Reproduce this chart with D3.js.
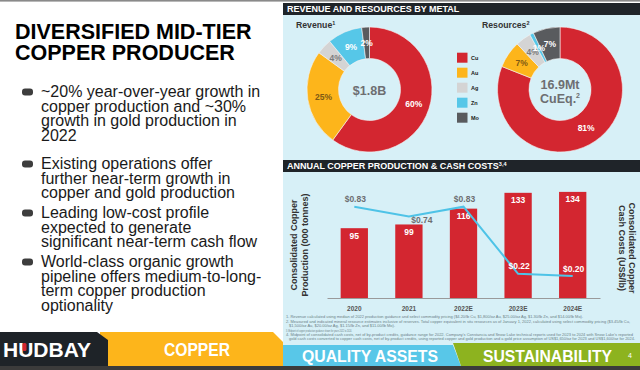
<!DOCTYPE html>
<html><head><meta charset="utf-8">
<script src="https://cdn.jsdelivr.net/npm/d3@7"></script>
<style>
html,body{margin:0;padding:0;background:#fff;}
svg{display:block;font-family:"Liberation Sans",Arial,Helvetica,sans-serif;}
</style></head>
<body>
<svg id="c" width="640" height="370"></svg>
<script>
// ---------- DATA ----------
const metals = ["Cu","Au","Ag","Zn","Mo"];
const revenueShare = [60,25,4,9,2];
const resourceShare = [81,7,4,1,7];
const years = ["2020","2021","2022E","2023E","2024E"];
const copperProduction = [95,99,116,133,134];
const cashCosts = [0.83,0.74,0.83,0.22,0.20];
const prodAxisDomain = [20,150];
const costAxisDomain = [0,1.1];

const titleLines = ["DIVERSIFIED MID-TIER","COPPER PRODUCER"];
const bullets = [
  ["~20% year-over-year growth in","copper production and ~30%","growth in gold production in","2022"],
  ["Existing operations offer","further near-term growth in","copper and gold production"],
  ["Leading low-cost profile","expected to generate","significant near-term cash flow"],
  ["World-class organic growth","pipeline offers medium-to-long-","term copper production","optionality"]
];
const footnotes = [
  "1. Revenue calculated using median of 2022 production guidance and select commodity pricing ($4.20/lb Cu, $1,800/oz Au, $25.00/oz Ag, $1.30/lb Zn, and $14.00/lb Mo).",
  "2. Measured and indicated mineral resource estimates inclusive of reserves. Total copper equivalent in situ resources as of January 1, 2022, calculated using select commodity pricing ($3.45/lb Cu,",
  "$1,500/oz Au, $20.00/oz Ag, $1.15/lb Zn, and $11.00/lb Mo).",
  "3. Midpoint of copper production guidance shown for years 2022 to 2024.",
  "4. Midpoint of consolidated cash costs, net of by-product credits, guidance range for 2022. Company's Constancia and Snow Lake technical reports used for 2023 to 2024 with Snow Lake's reported",
  "gold cash costs converted to copper cash costs, net of by-product credits, using reported copper and gold production and a gold price assumption of US$1,650/oz for 2023 and US$1,600/oz for 2024."
];

// ---------- STYLE ----------
const metalColor = d3.scaleOrdinal().domain(metals).range(["#d32630","#fdb51b","#d4d4d4","#56c7e8","#595b5e"]);
const labelColor = d3.scaleOrdinal().domain(metals).range(["#ffffff","#7d5a14","#7c7c7c","#ffffff","#ffffff"]);
const panelBlue = "#d7f0f7", darkBar = "#1f2429", red = "#d32630";

const svg = d3.select("#c");
svg.append("rect").attr("width",640).attr("height",370).attr("fill","#fff");
svg.append("rect").attr("x",0).attr("y",0).attr("width",640).attr("height",1.6).attr("fill","#8a8a8a");

// ---------- LEFT TEXT ----------
const left = svg.append("g");
titleLines.forEach((t,i)=>{
  left.append("text").attr("x",15).attr("y",39+i*21).attr("font-size",21.5).attr("font-weight","bold")
    .attr("fill","#000").text(t);
});
const bulletStarts = [97,169,218,267];
bullets.forEach((lines,bi)=>{
  const y0 = bulletStarts[bi];
  left.append("rect").attr("x",22).attr("y",y0-8.5).attr("width",11).attr("height",7).attr("rx",3)
    .attr("fill","#3d3d3d");
  lines.forEach((t,li)=>{
    left.append("text").attr("x",41).attr("y",y0+li*14.5).attr("font-size",16)
      .attr("fill","#1a1a1a").text(t);
  });
});

// ---------- RIGHT PANEL ----------
svg.append("rect").attr("x",283).attr("y",3).attr("width",357).attr("height",342).attr("fill",panelBlue);
function header(y, txt, sup){
  svg.append("rect").attr("x",283).attr("y",y).attr("width",357).attr("height",12).attr("fill",darkBar);
  const t = svg.append("text").attr("x",287).attr("y",y+9.3).attr("font-size",9).attr("font-weight","bold").attr("fill","#fff");
  t.append("tspan").text(txt);
  if(sup) t.append("tspan").attr("font-size",5.5).attr("dy",-3.2).text(sup);
}
header(3,"REVENUE AND RESOURCES BY METAL");
header(160,"ANNUAL COPPER PRODUCTION & CASH COSTS","3,4");

// Donuts
const pie = d3.pie().sort(null).value(d=>d.v);
const rOut = 62.5, rIn = 31;
const arc = d3.arc().innerRadius(rIn).outerRadius(rOut);
const labelArc = d3.arc().innerRadius(46.5).outerRadius(46.5);
function donut(cx, cy, vals, title, sup, centerLines, titleX){
  const g = svg.append("g").attr("transform",`translate(${cx},${cy})`);
  const data = pie(metals.map((m,i)=>({m, v:vals[i]})));
  g.selectAll("path").data(data).join("path").attr("d",arc)
    .attr("fill",d=>metalColor(d.data.m)).attr("stroke","#f4f4f4").attr("stroke-width",0.6);
  g.selectAll("text.pl").data(data).join("text").attr("class","pl")
    .attr("transform",d=>`translate(${labelArc.centroid(d)})`)
    .attr("text-anchor","middle").attr("dy","0.35em").attr("font-size",8.5).attr("font-weight","bold")
    .attr("fill",d=>labelColor(d.data.m)).text(d=>d.data.v+"%");
  centerLines.forEach((cl,i)=>{
    const t = g.append("text").attr("text-anchor","middle")
      .attr("y", centerLines.length===1 ? 5 : -1 + i*14)
      .attr("font-size",12.5).attr("font-weight","bold").attr("fill","#6d6e71");
    t.append("tspan").text(cl[0]);
    if(cl[1]) t.append("tspan").attr("font-size",7).attr("dy",-5).text(cl[1]);
  });
  const tt = svg.append("text").attr("x",titleX).attr("y",28).attr("font-size",8.7).attr("font-weight","bold").attr("fill","#333");
  tt.append("tspan").text(title);
  tt.append("tspan").attr("font-size",5.5).attr("dy",-3.3).text(sup);
}
donut(369.5, 89.5, revenueShare, "Revenue", "1", [["$1.8B"]], 296);
donut(560, 89.5, resourceShare, "Resources", "2", [["16.9Mt"],["CuEq.","2"]], 482);

// Legend
const leg = svg.append("g");
metals.forEach((m,i)=>{
  leg.append("rect").attr("x",457).attr("y",52.7+i*15).attr("width",10.5).attr("height",10).attr("fill",metalColor(m));
  leg.append("text").attr("x",471).attr("y",60+i*15).attr("font-size",5.5).attr("font-weight","bold").attr("fill","#222").text(m);
});

// ---------- BAR + LINE CHART ----------
const x = d3.scaleBand().domain(years).range([327,600]).paddingInner(0.5).paddingOuter(0.25);
const yP = d3.scaleLinear().domain(prodAxisDomain).range([298,177]);
const yC = d3.scaleLinear().domain(costAxisDomain).range([298,177]);

const chart = svg.append("g");
chart.selectAll("rect.bar").data(years).join("rect").attr("class","bar")
  .attr("x",d=>x(d)).attr("width",x.bandwidth())
  .attr("y",(d,i)=>yP(copperProduction[i])).attr("height",(d,i)=>yP(prodAxisDomain[0])-yP(copperProduction[i]))
  .attr("fill",red);
chart.selectAll("text.bl").data(years).join("text").attr("class","bl")
  .attr("x",d=>x(d)+x.bandwidth()/2).attr("y",(d,i)=>yP(copperProduction[i])+10.5)
  .attr("text-anchor","middle").attr("font-size",8.5).attr("font-weight","bold").attr("fill","#fff")
  .text((d,i)=>copperProduction[i]);

// x axis
const xAxis = d3.axisBottom(x).tickSize(0).tickPadding(8);
const ax = chart.append("g").attr("transform","translate(0,298)").call(xAxis);
ax.select(".domain").attr("stroke","#9a9a9a").attr("stroke-width",1);
ax.selectAll("text").attr("font-size",6.5).attr("font-weight","bold").attr("fill","#555")
  .attr("font-family","Liberation Sans,Arial,sans-serif");

// line
const line = d3.line().x((d,i)=>x(years[i])+x.bandwidth()/2).y(d=>yC(d));
chart.append("path").datum(cashCosts).attr("d",line).attr("fill","none")
  .attr("stroke","#4ec3e7").attr("stroke-width",2);
chart.selectAll("text.cl").data(cashCosts).join("text").attr("class","cl")
  .each(function(d,i){
    const px = x(years[i])+x.bandwidth()/2, py = yC(d);
    // dip point: label below-right, otherwise above
    const dip = i>0 && i<cashCosts.length-1 && d<cashCosts[i-1] && d<cashCosts[i+1];
    const lx = dip ? px+13 : px+1, ly = dip ? py+6.5 : py-4.5;
    const onBar = (ly-3) > yP(copperProduction[i]);
    d3.select(this).attr("x",lx).attr("y",ly).attr("text-anchor","middle")
      .attr("font-size",8.5).attr("font-weight","bold").attr("fill",onBar?"#fff":"#6d6e71")
      .text("$"+d.toFixed(2));
  });

// axis titles
const lt = chart.append("text").attr("transform","translate(297,245) rotate(-90)").attr("text-anchor","middle")
  .attr("font-size",9).attr("font-weight","bold").attr("fill","#333");
lt.append("tspan").attr("x",0).attr("dy",0).text("Consolidated Copper");
lt.append("tspan").attr("x",0).attr("dy",10.5).text("Production (000 tonnes)");
const rt = chart.append("text").attr("transform","translate(629,248) rotate(90)").attr("text-anchor","middle")
  .attr("font-size",9).attr("font-weight","bold").attr("fill","#333");
rt.append("tspan").attr("x",0).attr("dy",0).text("Consolidated Copper");
rt.append("tspan").attr("x",0).attr("dy",10.5).text("Cash Costs (US$/lb)");

// footnotes
const fnPos = [[286,318,297],[286,323,344],[289,327,106],[286,331.5,66],[286,335.5,347],[289,340,346]];
footnotes.forEach((t,i)=>{
  svg.append("text").attr("x",fnPos[i][0]).attr("y",fnPos[i][1]).attr("font-size",4)
    .attr("textLength",fnPos[i][2]).attr("lengthAdjust","spacingAndGlyphs")
    .attr("fill","#6b7f86").text(t);
});

// ---------- BOTTOM BAR ----------
const bot = svg.append("g");
bot.append("path").attr("d","M100,332 L273,332 L283,342 L283,366 L100,366 Z").attr("fill","#fdb51b");
bot.append("path").attr("d","M0,332 L97,332 L108,340 L108,366 L0,366 Z").attr("fill","#1e2328");
bot.append("path").attr("d","M283,345 L453,345 L461,366 L283,366 Z").attr("fill","#58c7e8");
bot.append("path").attr("d","M453,343 L640,343 L640,366 L461,366 Z").attr("fill","#8db31f");
bot.append("rect").attr("x",0).attr("y",366).attr("width",640).attr("height",4).attr("fill","#3b3b3b");
const logo = bot.append("text").attr("x",3).attr("y",357).attr("font-size",20.5).attr("font-weight","bold")
  .attr("fill","#fff").attr("textLength",88).attr("lengthAdjust","spacingAndGlyphs").text("HUDBAY");
// red mark inside the U
bot.append("rect").attr("x",22.5).attr("y",343).attr("width",4).attr("height",8).attr("rx",1.5).attr("fill","#d32630");
bot.append("text").attr("x",197).attr("y",356).attr("text-anchor","middle").attr("font-size",18).attr("font-weight","bold")
  .attr("fill","#fff").attr("textLength",66).attr("lengthAdjust","spacingAndGlyphs").text("COPPER");
bot.append("text").attr("x",370).attr("y",362).attr("text-anchor","middle").attr("font-size",16).attr("font-weight","bold")
  .attr("fill","#fff").attr("textLength",136).attr("lengthAdjust","spacingAndGlyphs").text("QUALITY ASSETS");
bot.append("text").attr("x",547.5).attr("y",362).attr("text-anchor","middle").attr("font-size",16).attr("font-weight","bold")
  .attr("fill","#fff").attr("textLength",129).attr("lengthAdjust","spacingAndGlyphs").text("SUSTAINABILITY");
bot.append("text").attr("x",630).attr("y",358).attr("text-anchor","middle").attr("font-size",7)
  .attr("fill","#fff").text("4");
</script>
</body></html>
